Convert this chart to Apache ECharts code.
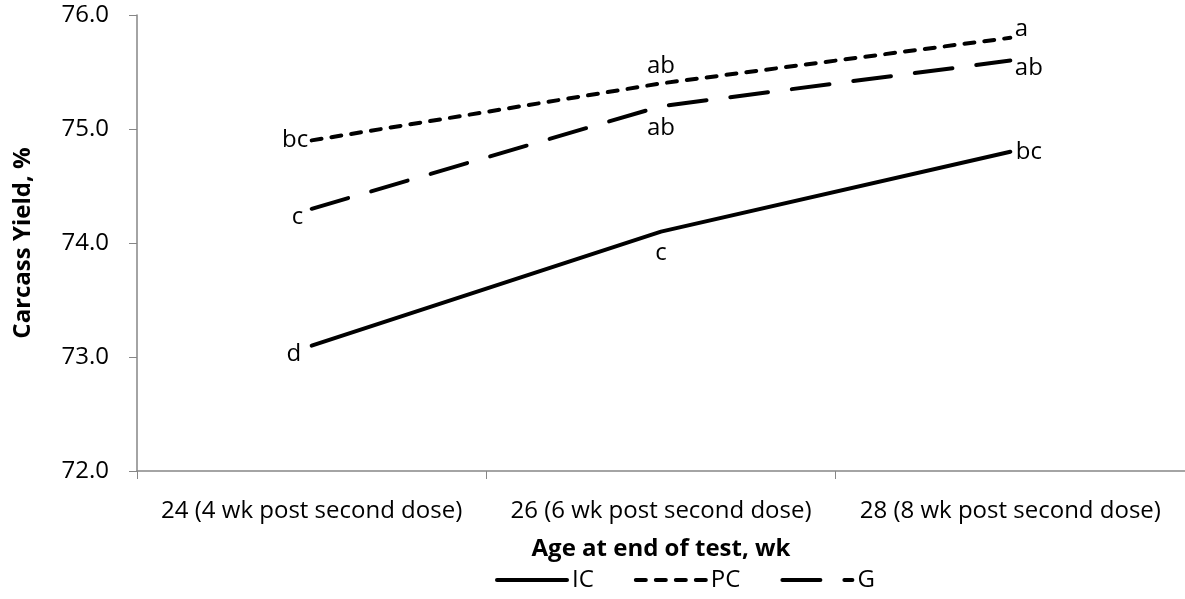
<!DOCTYPE html>
<html>
<head>
<meta charset="utf-8">
<script src="https://cdn.jsdelivr.net/npm/echarts@6/dist/echarts.min.js"></script>
<style>
  html, body { margin: 0; padding: 0; background: #fff; }
  #chart { width: 1185px; height: 599px; }
</style>
</head>
<body>
<div id="chart"></div>
<script>
const categories = [
  "24 (4 wk post second dose)",
  "26 (6 wk post second dose)",
  "28 (8 wk post second dose)",
];
const icValues = [73.1, 74.1, 74.8];
const pcValues = [74.9, 75.4, 75.8];
const gValues = [74.3, 75.2, 75.6];
const icLetters = ["d", "c", "bc"];
const pcLetters = ["bc", "ab", "a"];
const gLetters = ["c", "ab", "ab"];

const font = "'Open Sans', sans-serif";
const fs = 24;

// label placement for each point, per series
const icPos = [
  { position: "left", distance: 10, offset: [0, 9] },
  { position: "bottom", distance: 9 },
  { position: "right", distance: 5 },
];
const pcPos = [
  { position: "left", distance: 3 },
  { position: "top", distance: 5 },
  { position: "right", distance: 4, offset: [0, -9] },
];
const gPos = [
  { position: "left", distance: 8, offset: [0, 8] },
  { position: "bottom", distance: 9 },
  { position: "right", distance: 4, offset: [0, 8] },
];

function buildData(values, letters, pos) {
  return values.map((v, i) => ({
    value: v,
    label: Object.assign({ show: true, formatter: letters[i] }, pos[i]),
  }));
}

function makeSeries(name, values, letters, pos, dash) {
  return {
    name: name,
    type: "line",
    data: buildData(values, letters, pos),
    symbol: "circle",
    symbolSize: 1,
    itemStyle: { color: "rgba(0,0,0,0)" },
    lineStyle: { color: "#000", width: 4, type: dash, cap: "round" },
    label: { color: "#000", fontSize: fs, fontFamily: font },
    emphasis: { disabled: true },
    animation: false,
  };
}

const chart = echarts.init(document.getElementById("chart"));
chart.setOption({
  backgroundColor: "#fff",
  grid: { left: 137, right: 0, top: 15, bottom: 128, containLabel: false },
  legend: {
    bottom: 2,
    left: 490,
    itemWidth: 70,
    itemHeight: 14,
    itemGap: 40,
    lineStyle: { width: 4, cap: "round" },
    textStyle: { color: "#000", fontSize: fs, fontFamily: font },
    data: ["IC", "PC", "G"],
  },
  xAxis: {
    type: "category",
    data: categories,
    boundaryGap: true,
    axisLine: { lineStyle: { color: "#868686", width: 1.5 } },
    axisTick: { show: true, length: 8, lineStyle: { color: "#868686" } },
    axisLabel: { color: "#000", fontSize: fs, fontFamily: font, margin: 28, interval: 0 },
    name: "Age at end of test, wk",
    nameLocation: "middle",
    nameGap: 66,
    nameTextStyle: { color: "#000", fontSize: fs, fontWeight: "bold", fontFamily: font },
  },
  yAxis: {
    type: "value",
    min: 72,
    max: 76,
    interval: 1,
    axisLine: { show: true, lineStyle: { color: "#868686", width: 1.5 } },
    axisTick: { show: true, length: 8, lineStyle: { color: "#868686" } },
    splitLine: { show: false },
    axisLabel: {
      color: "#000",
      fontSize: fs,
      fontFamily: font,
      margin: 28,
      formatter: (v) => v.toFixed(1),
    },
    name: "Carcass Yield, %",
    nameLocation: "middle",
    nameGap: 102,
    nameTextStyle: { color: "#000", fontSize: fs, fontWeight: "bold", fontFamily: font },
  },
  series: [
    makeSeries("IC", icValues, icLetters, icPos, "solid"),
    makeSeries("PC", pcValues, pcLetters, pcPos, [10, 10]),
    makeSeries("G", gValues, gLetters, gPos, [38, 24]),
  ],
});
</script>
</body>
</html>
